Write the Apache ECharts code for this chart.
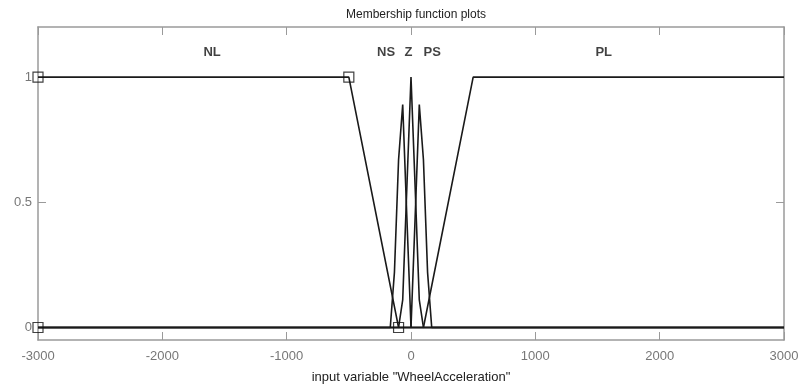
<!DOCTYPE html>
<html>
<head>
<meta charset="utf-8">
<script src="https://cdn.jsdelivr.net/npm/echarts@6/dist/echarts.min.js"></script>
<style>
  html, body { margin: 0; padding: 0; background: #fff; }
  #chart { width: 803px; height: 392px; }
</style>
</head>
<body>
<div id="chart"></div>
<script>
var nlX = [-3000, -500, -100, 3000];
var nlY = [1, 1, 0, 0];
var nsX = [-3000, -166.7, -133.3, -100, -66.7, -33.3, 0, 3000];
var nsY = [0, 0, 0.22, 0.67, 0.89, 0.44, 0, 0];
var zX = [-3000, -100, -66.7, -33.3, 0, 33.3, 66.7, 100, 3000];
var zY = [0, 0, 0.11, 0.56, 1, 0.56, 0.11, 0, 0];
var psX = [-3000, 0, 33.3, 66.7, 100, 133.3, 166.7, 3000];
var psY = [0, 0, 0.44, 0.89, 0.67, 0.22, 0, 0];
var plX = [-3000, 100, 500, 3000];
var plY = [0, 0, 1, 1];

// parameter markers of the selected MF (NL)
var markX = [-3000, -3000, -500, -100];
var markY = [1, 0, 1, 0];

// MF names and where they are written
var mfNames = ['NL', 'NS', 'Z', 'PS', 'PL'];
var mfLabelX = [-1600, -200, -20, 170, 1550];
var mfLabelY = 1.1;

var yTicks = [0, 0.5, 1];

function pairs(xs, ys) {
    return xs.map(function (x, i) { return [x, ys[i]]; });
}

var myChart = echarts.init(document.getElementById('chart'));

var axisGray = '#9a9a9a';
var font = "'Liberation Sans', Arial, sans-serif";

function mfSeries(name, xs, ys) {
    return {
        name: name,
        type: 'line',
        data: pairs(xs, ys),
        showSymbol: false,
        symbol: 'none',
        lineStyle: { color: '#1a1a1a', width: 1.6 },
        z: 3
    };
}

function frameAxis(pos, extra) {
    var ax = {
        type: 'value',
        position: pos,
        axisLine: { show: true, onZero: false, lineStyle: { color: axisGray, width: 1.5 } },
        axisTick: { show: true, inside: true, length: 8, lineStyle: { color: axisGray } },
        axisLabel: { show: false },
        splitLine: { show: false }
    };
    for (var k in extra) ax[k] = extra[k];
    return ax;
}

var option = {
    animation: false,
    title: {
        text: 'Membership function plots',
        left: 411,
        top: 4,
        textAlign: 'center',
        textStyle: { fontFamily: font, fontSize: 12, fontWeight: 'normal', color: '#222' }
    },
    grid: {
        left: 38,
        right: 19,
        top: 27,
        bottom: 52,
        show: false
    },
    xAxis: [
        frameAxis('bottom', {
            min: -3000,
            max: 3000,
            interval: 1000,
            name: 'input variable "WheelAcceleration"',
            nameLocation: 'middle',
            nameGap: 31,
            nameTextStyle: { fontFamily: font, fontSize: 13, color: '#222' },
            axisLabel: {
                fontFamily: font, fontSize: 13, color: '#777', margin: 10,
                formatter: function (v) { return String(v); }
            }
        }),
        frameAxis('top', { min: -3000, max: 3000, interval: 1000 })
    ],
    yAxis: [
        frameAxis('left', {
            min: -0.05,
            max: 1.2,
            axisTick: { show: true, inside: true, length: 8, customValues: yTicks, lineStyle: { color: axisGray } },
            axisLabel: { customValues: yTicks, fontFamily: font, fontSize: 13, color: '#777', margin: 6 }
        }),
        frameAxis('right', {
            min: -0.05,
            max: 1.2,
            axisTick: { show: true, inside: true, length: 8, customValues: yTicks, lineStyle: { color: axisGray } }
        })
    ],
    series: [
        mfSeries('NL', nlX, nlY),
        mfSeries('NS', nsX, nsY),
        mfSeries('Z', zX, zY),
        mfSeries('PS', psX, psY),
        mfSeries('PL', plX, plY),
        {
            name: 'params',
            type: 'scatter',
            data: pairs(markX, markY),
            symbol: 'rect',
            symbolSize: 10,
            itemStyle: { color: 'rgba(255,255,255,0)', borderColor: '#111', borderWidth: 1.2 },
            z: 4
        },
        {
            name: 'labels',
            type: 'scatter',
            data: mfNames.map(function (n, i) { return { name: n, value: [mfLabelX[i], mfLabelY] }; }),
            symbolSize: 0,
            label: {
                show: true,
                position: 'inside',
                formatter: '{b}',
                fontFamily: font,
                fontSize: 13,
                fontWeight: 'bold',
                color: '#111'
            },
            z: 5
        }
    ]
};
myChart.setOption(option);
</script>
</body>
</html>
